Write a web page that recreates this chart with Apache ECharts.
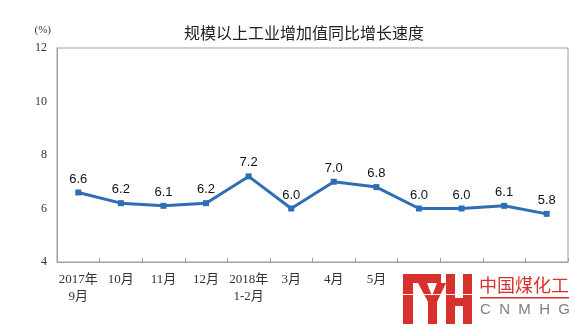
<!DOCTYPE html>
<html><head><meta charset="utf-8">
<script src="https://cdn.jsdelivr.net/npm/echarts@6/dist/echarts.min.js"></script>
<style>html,body{margin:0;padding:0;background:#fff}#c{width:575px;height:328px}</style>
</head><body><div id="c"></div>
<script>
var categories = ['2017年\n9月','10月','11月','12月','2018年\n1-2月','3月','4月','5月','6月','7月','8月','9月'];
var growth = [6.6, 6.2, 6.1, 6.2, 7.2, 6.0, 7.0, 6.8, 6.0, 6.0, 6.1, 5.8];
var yTicks = {min: 4, max: 12, interval: 2};
var titleText = '规模以上工业增加值同比增长速度';
var unitText = '(%)';

var chart = echarts.init(document.getElementById('c'), null, {renderer: 'canvas'});
var red = '#d8302c';
chart.setOption({
  animation: false,
  backgroundColor: '#fff',
  title: {
    text: titleText, left: 299, top: 20, textAlign: 'center',
    textStyle: {fontFamily: 'Noto Sans CJK SC', fontSize: 16, fontWeight: 'normal', color: '#222'}
  },
  grid: {left: 57, right: 7, top: 48, bottom: 66, show: true, borderColor: '#a0a0a0', borderWidth: 1},
  xAxis: {
    type: 'category', data: categories, boundaryGap: true,
    axisLine: {lineStyle: {color: '#a0a0a0', width: 1}},
    axisTick: {show: true, inside: true, length: 4, lineStyle: {color: '#a0a0a0'}},
    axisLabel: {interval: 0, margin: 9, color: '#333', fontSize: 13, lineHeight: 17,
      fontFamily: 'Liberation Serif, Noto Sans CJK SC'}
  },
  yAxis: {
    type: 'value', min: yTicks.min, max: yTicks.max, interval: yTicks.interval,
    name: unitText, nameLocation: 'end', nameGap: 12,
    nameTextStyle: {align: 'right', color: '#333', fontSize: 11, fontFamily: 'Liberation Serif', padding: [0, 6, 0, 0]},
    splitLine: {show: false},
    axisLine: {show: true, lineStyle: {color: '#a0a0a0'}},
    axisTick: {show: false},
    axisLabel: {color: '#333', fontSize: 12, margin: 10, fontFamily: 'Liberation Serif'}
  },
  series: [{
    type: 'line', data: growth,
    symbol: 'rect', symbolSize: 6,
    lineStyle: {color: '#2f6db5', width: 3},
    itemStyle: {color: '#2f6db5'},
    label: {show: true, position: 'top', distance: 4, color: '#111', fontSize: 13,
      fontFamily: 'Liberation Sans, Arial', formatter: function(p){ return p.value.toFixed(1); }}
  }],
  graphic: [
    {type: 'rect', left: 396, top: 271, shape: {width: 179, height: 57}, style: {fill: '#fff'}, z: 100},
    {type: 'polygon', z: 101, shape: {points: [[403,274],[441,274],[441,283],[413,283],[413,324],[403,324]]}, style: {fill: red}},
    {type: 'polygon', z: 101, shape: {points: [[418,283],[427,283],[432,296],[437,283],[446,283],[437,302],[437,324],[428,324],[428,302]]}, style: {fill: red}},
    {type: 'rect', z: 101, shape: {x: 446, y: 274, width: 9, height: 50}, style: {fill: red}},
    {type: 'rect', z: 101, shape: {x: 463, y: 274, width: 9, height: 50}, style: {fill: red}},
    {type: 'rect', z: 101, shape: {x: 446, y: 298, width: 26, height: 8}, style: {fill: red}},
    {type: 'rect', z: 102, shape: {x: 403, y: 294, width: 69, height: 1}, style: {fill: '#fff'}},
    {type: 'text', z: 101, left: 479, top: 276, style: {text: '中国煤化工', fill: red, fontSize: 18, fontFamily: 'Noto Sans CJK SC'}},
    {type: 'rect', z: 101, shape: {x: 480, y: 297, width: 89, height: 1.5}, style: {fill: red}},
    {type: 'text', z: 101, left: 480, top: 302, style: {text: 'C  N  M  H  G', fill: '#808080', fontSize: 15, fontFamily: 'Liberation Sans'}}
  ]
});
</script></body></html>
